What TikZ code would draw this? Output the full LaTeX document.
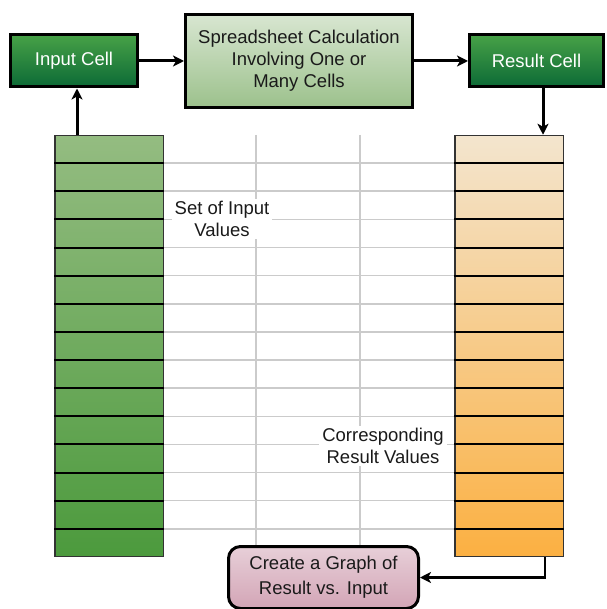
\documentclass[tikz,border=0pt]{standalone}
\usepackage{fontspec}
\setmainfont{Liberation Sans}
\usetikzlibrary{arrows.meta,calc}
\definecolor{cellTop}{HTML}{47A147}
\definecolor{cellBot}{HTML}{0C6A36}
\definecolor{calcTop}{HTML}{D8E6D1}
\definecolor{calcBot}{HTML}{9CC18C}
\definecolor{lcolTop}{HTML}{94BC81}
\definecolor{lcolBot}{HTML}{4C9A3D}
\definecolor{rcolTop}{HTML}{F3E5CE}
\definecolor{rcolBot}{HTML}{FBB042}
\definecolor{grTop}{HTML}{E7CFD8}
\definecolor{grBot}{HTML}{D3A5B6}
\definecolor{gridgray}{HTML}{CBCBCB}
\definecolor{txt}{HTML}{1A1A1A}
\begin{document}
\begin{tikzpicture}[x=1pt,y=-1pt,
  font=\fontsize{18.5}{22}\selectfont,
  arr/.style={line width=3pt,-{Stealth[length=11pt,width=11pt,inset=3pt]}},
  cellbox/.style={draw=black,line width=3pt,top color=cellTop,bottom color=cellBot,
    text=white,minimum height=52pt,inner sep=0pt},
  calcbox/.style={draw=black,line width=3pt,top color=calcTop,bottom color=calcBot,
    text=txt,minimum width=227pt,minimum height=93pt,align=center,inner sep=0pt},
  colbox/.style={draw=black!80,line width=1.5pt,minimum width=108.5pt,minimum height=421pt,inner sep=0pt},
  rowline/.style={line width=2pt,black},
  gridline/.style={line width=1.6pt,gridgray},
  label/.style={fill=white,text=txt,align=center,inner xsep=3pt,inner ysep=2pt},
  graphbox/.style={draw=black,line width=3pt,rounded corners=12pt,top color=grTop,bottom color=grBot,
    text=txt,minimum width=190pt,minimum height=62pt,align=center,inner sep=0pt,
    font=\fontsize{18.5}{25}\selectfont}
]
\useasboundingbox (0,0) rectangle (606,609);

% grid between columns
\foreach \k in {1,...,14}{
  \draw[gridline] (160,{135+\k*28.13}) -- (458,{135+\k*28.13});
}
\draw[gridline] (256,135) -- (256,548);
\draw[gridline] (360,135) -- (360,548);

% columns
\node[colbox,top color=lcolTop,bottom color=lcolBot] (leftcol) at (109,346) {};
\node[colbox,top color=rcolTop,bottom color=rcolBot] (rightcol) at (509,346) {};
\foreach \k in {1,...,14}{
  \draw[rowline] (leftcol.west |- 0,{135+\k*28.13}) -- (leftcol.east |- 0,{135+\k*28.13});
  \draw[rowline] (rightcol.west |- 0,{135+\k*28.13}) -- (rightcol.east |- 0,{135+\k*28.13});
}

% labels in grid
\node[label] (inlabel) at (222,219) {Set of Input\\Values};
\node[label] (outlabel) at (383,446) {Corresponding\\Result Values};

% top row
\node[cellbox,minimum width=127pt] (inputcell) at (74,61) {Input Cell};
\node[calcbox] (calc) at (299,61) {Spreadsheet Calculation\\Involving One or\\Many Cells};
\node[cellbox,minimum width=134pt] (resultcell) at (536.5,61) {Result Cell};

% graph box
\node[graphbox] (graph) at (323.5,577.5) {Create a Graph of\\Result vs. Input};

% connectors
\draw[arr] (inputcell.east) -- (calc.west);
\draw[arr] (calc.east) -- (resultcell.west);
\draw[arr] (77,0 |- leftcol.north) -- (77,0 |- inputcell.south);
\draw[arr] (543,0 |- resultcell.south) -- (543,0 |- rightcol.north);
\draw[arr,line width=2.5pt] (545,0 |- rightcol.south) |- (graph.east);
\end{tikzpicture}
\end{document}
